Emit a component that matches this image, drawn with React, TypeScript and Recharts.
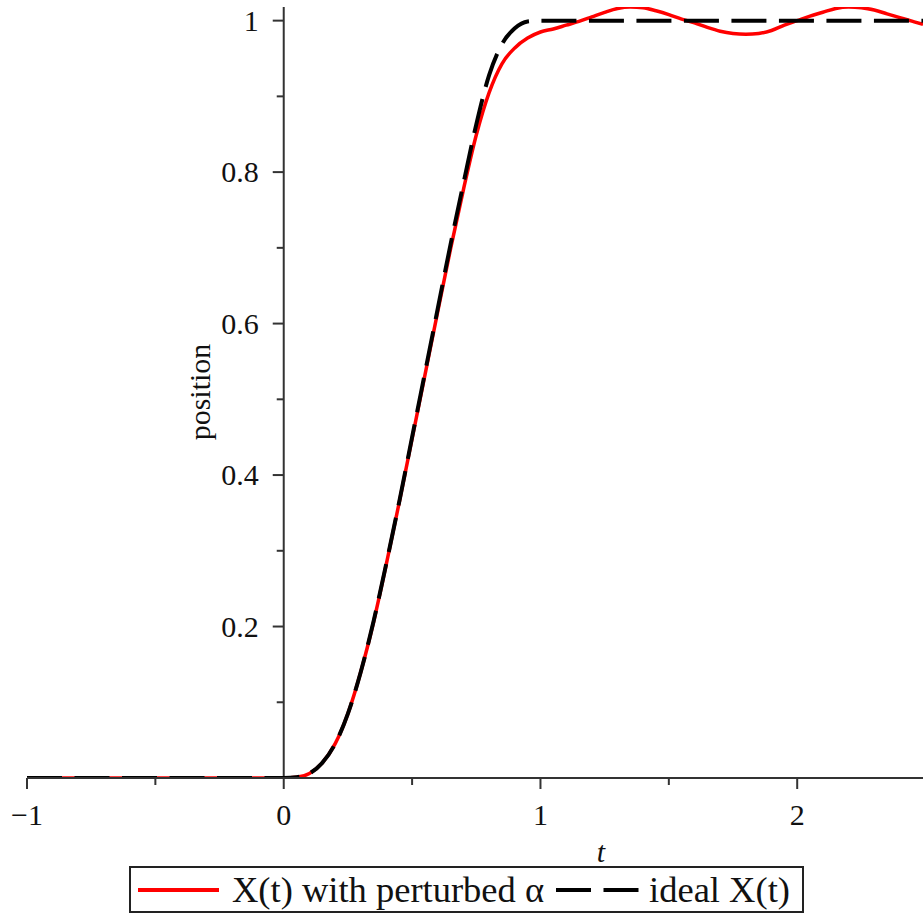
import React from "react";
import { LineChart, Line, XAxis, YAxis, ReferenceLine } from "recharts";

// time samples (t) and the two position curves
const T = [
  -1, -0.5, 0, 0.05, 0.1, 0.15, 0.2, 0.25, 0.3, 0.35, 0.4, 0.45, 0.5, 0.55, 0.6, 0.65, 0.7, 0.75, 0.8, 0.85,
  0.9, 0.95, 1, 1.05, 1.1, 1.15, 1.2, 1.25, 1.3, 1.35, 1.4, 1.45, 1.5, 1.55, 1.6, 1.65, 1.7, 1.75, 1.8, 1.85,
  1.9, 1.95, 2, 2.05, 2.1, 2.15, 2.2, 2.25, 2.3, 2.35, 2.4, 2.45, 2.49,
];

const PERTURBED = [
  0, 0, 0, 0.001, 0.006, 0.02, 0.045, 0.085, 0.14, 0.206, 0.283, 0.364, 0.448, 0.532, 0.616, 0.699, 0.777, 0.849, 0.905, 0.943,
  0.964, 0.977, 0.985, 0.989, 0.994, 0.999, 1.005, 1.011, 1.016, 1.018, 1.017, 1.013, 1.008, 1.002, 0.997, 0.991, 0.986, 0.983, 0.982, 0.983,
  0.987, 0.994, 1.0, 1.006, 1.011, 1.016, 1.018, 1.017, 1.014, 1.009, 1.004, 0.999, 0.995,
];

const IDEAL = [
  0, 0, 0, 0.001, 0.006, 0.02, 0.045, 0.085, 0.14, 0.207, 0.284, 0.365, 0.45, 0.535, 0.62, 0.705, 0.785, 0.863, 0.928, 0.969,
  0.99, 0.999, 1, 1, 1, 1, 1, 1, 1, 1, 1, 1, 1, 1, 1, 1, 1, 1, 1, 1,
  1, 1, 1, 1, 1, 1, 1, 1, 1, 1, 1, 1, 1,
];

const X_TICKS = [-1, -0.5, 0, 0.5, 1, 1.5, 2];
const X_MAJOR = [-1, 0, 1, 2];
const X_LABELS = ["\u22121", "0", "1", "2"];
const Y_TICKS = [0, 0.1, 0.2, 0.3, 0.4, 0.5, 0.6, 0.7, 0.8, 0.9, 1];
const Y_MAJOR = [0.2, 0.4, 0.6, 0.8, 1];
const Y_LABELS = ["0.2", "0.4", "0.6", "0.8", "1"];

const rows = T.map((t, i) => ({ t, perturbed: PERTURBED[i], ideal: IDEAL[i] }));

const W = 923;
const H = 916;
const X_MIN = -1;
const X_MAX = 2.49;
const Y_MAX = 1.018;
const Y_AXIS_W = 2;
const M = { top: 7, right: 0, left: 27 - Y_AXIS_W, bottom: 78 };
const X_AXIS_H = 60;
const PLOT_LEFT = M.left + Y_AXIS_W;
const PLOT_W = W - PLOT_LEFT - M.right;
const Y_AXIS_X = PLOT_LEFT + ((0 - X_MIN) / (X_MAX - X_MIN)) * PLOT_W;

const AXIS = "#333";
const FONT = "Liberation Serif, DejaVu Serif, serif";

function XTick({ x, y, payload }: any) {
  const v = payload.value;
  const k = X_MAJOR.indexOf(v);
  const major = k >= 0;
  return (
    <g>
      <line x1={x} x2={x} y1={y} y2={y + (major ? 11 : 7)} stroke={AXIS} strokeWidth={2} />
      {major && (
        <text x={x} y={y + 47} textAnchor="middle" fontSize={30} fontFamily={FONT} fill="#111">
          {X_LABELS[k]}
        </text>
      )}
    </g>
  );
}

function YTick({ y, payload }: any) {
  const v = payload.value;
  const k = Y_MAJOR.findIndex((m) => Math.abs(m - v) < 1e-9);
  const major = k >= 0;
  if (v === 0) return <g />;
  return (
    <g>
      <line x1={Y_AXIS_X} x2={Y_AXIS_X - (major ? 11 : 7)} y1={y} y2={y} stroke={AXIS} strokeWidth={2} />
      {major && (
        <text x={Y_AXIS_X - 25} y={y + 10} textAnchor="end" fontSize={30} fontFamily={FONT} fill="#111">
          {Y_LABELS[k]}
        </text>
      )}
    </g>
  );
}

export default function App() {
  return (
    <div style={{ position: "relative", width: W, height: H, background: "#fff", fontFamily: FONT }}>
      <style>{`body{margin:0}`}</style>
      <LineChart width={W} height={H} data={rows} margin={M}>
        <XAxis
          dataKey="t"
          type="number"
          domain={[X_MIN, X_MAX]}
          ticks={X_TICKS}
          interval={0}
          allowDataOverflow
          height={X_AXIS_H}
          axisLine={{ stroke: AXIS, strokeWidth: 2 }}
          tickLine={false}
          tickSize={0}
          tickMargin={0}
          tick={<XTick />}
        />
        <YAxis
          type="number"
          domain={[0, Y_MAX]}
          ticks={Y_TICKS}
          interval={0}
          allowDataOverflow
          width={Y_AXIS_W}
          axisLine={false}
          tickLine={false}
          tickSize={0}
          tickMargin={0}
          tick={<YTick />}
        />
        <ReferenceLine x={0} stroke={AXIS} strokeWidth={2} />
        <Line
          type="monotone"
          dataKey="perturbed"
          stroke="#ff0000"
          strokeWidth={3.5}
          dot={false}
          activeDot={false}
          isAnimationActive={false}
        />
        <Line
          type="monotone"
          dataKey="ideal"
          stroke="#000"
          strokeWidth={4}
          strokeDasharray="35 12.5"
          dot={false}
          activeDot={false}
          isAnimationActive={false}
        />
      </LineChart>

      <svg width={W} height={H} style={{ position: "absolute", left: 0, top: 0, pointerEvents: "none" }}>
        <text x={601} y={862} textAnchor="middle" fontSize={30} fontStyle="italic" fontFamily={FONT} fill="#111">
          t
        </text>
        <text
          x={199}
          y={392}
          textAnchor="middle"
          dominantBaseline="central"
          transform="rotate(-90 199 392)"
          fontSize={30}
          fontFamily={FONT}
          fill="#111"
        >
          position
        </text>
      </svg>

      <div
        style={{
          position: "absolute",
          left: 129,
          top: 866,
          width: 675,
          height: 47,
          boxSizing: "border-box",
          border: "2px solid #222",
          display: "flex",
          alignItems: "center",
          fontSize: 36.5,
          color: "#111",
          whiteSpace: "nowrap",
        }}
      >
        <svg width={81} height={10} style={{ marginLeft: 7 }}>
          <line x1={0} x2={81} y1={5} y2={5} stroke="#ff0000" strokeWidth={4} />
        </svg>
        <span style={{ marginLeft: 13 }}>X(t) with perturbed α</span>
        <svg width={84} height={10} style={{ marginLeft: 12 }}>
          <line x1={0} x2={84} y1={5} y2={5} stroke="#000" strokeWidth={4} strokeDasharray="35 12.5" />
        </svg>
        <span style={{ marginLeft: 9 }}>ideal X(t)</span>
      </div>
    </div>
  );
}
